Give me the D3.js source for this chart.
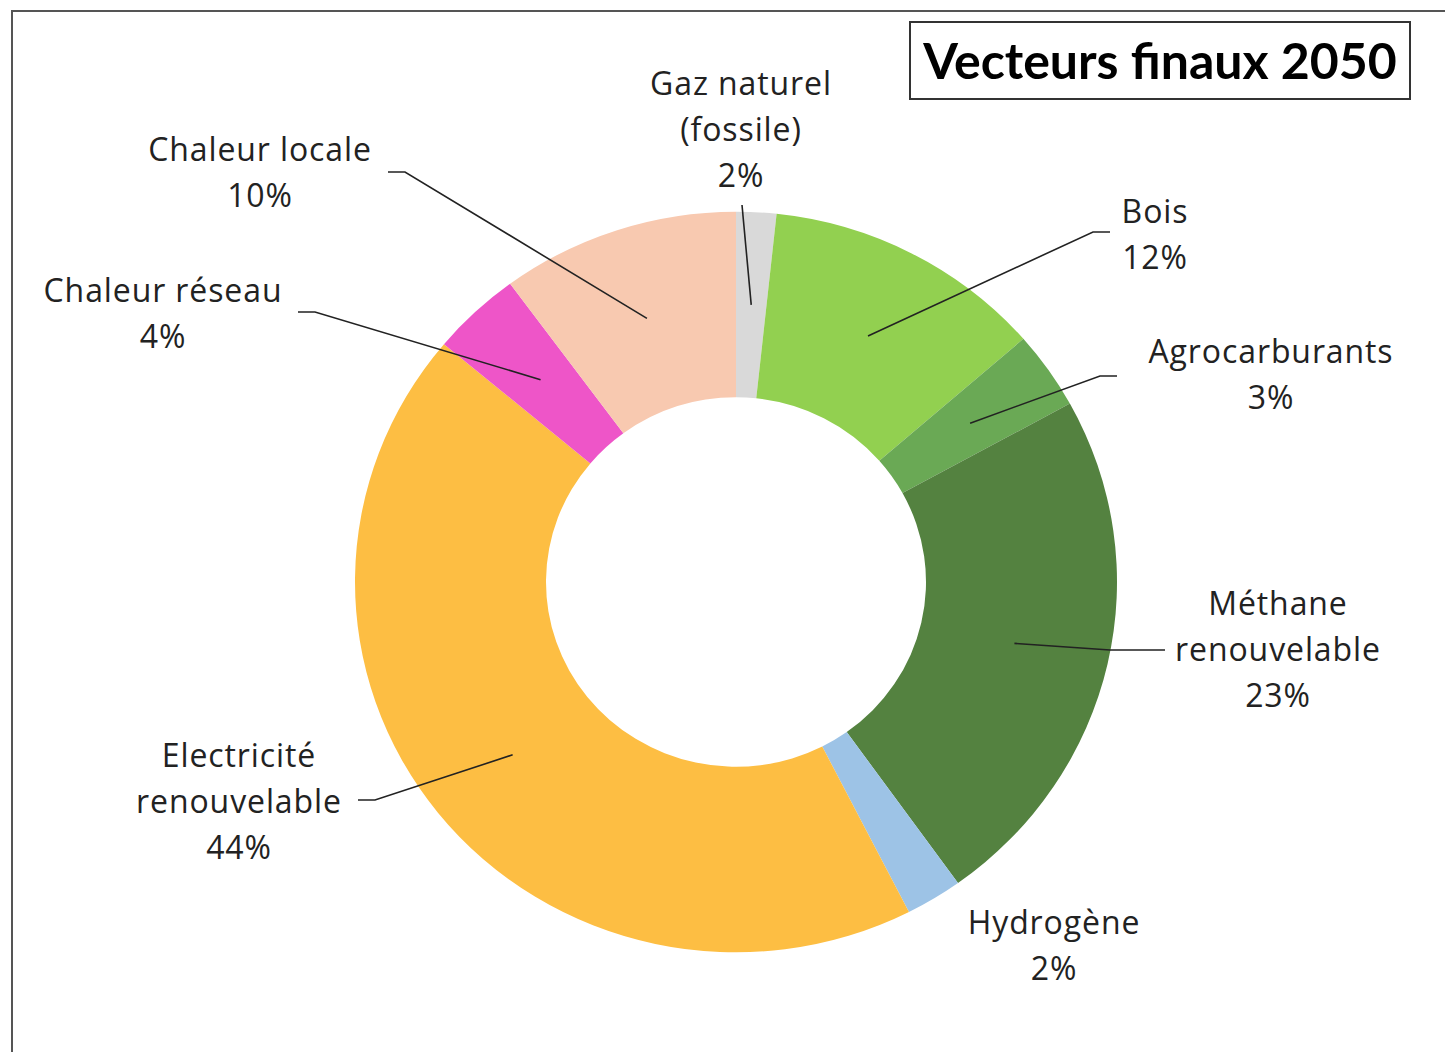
<!DOCTYPE html>
<html>
<head>
<meta charset="utf-8">
<script src="https://cdn.jsdelivr.net/npm/d3@7"></script>
<style>
  body { margin: 0; background: #fff; }
  text { font-family: "Open Sans", Lato, sans-serif; fill: #222; }
</style>
</head>
<body>
<div id="chart"></div>
<script>
// slices, clockwise from 12 o'clock
var categories = ["Gaz naturel (fossile)", "Bois", "Agrocarburants", "Méthane renouvelable",
                  "Hydrogène", "Electricité renouvelable", "Chaleur réseau", "Chaleur locale"];
var values = [1.7, 11.9, 3.4, 23.1, 2.4, 43.6, 3.8, 10.1];
var labelLines = [["Gaz naturel", "(fossile)"], ["Bois"], ["Agrocarburants"], ["Méthane", "renouvelable"],
                  ["Hydrogène"], ["Electricité", "renouvelable"], ["Chaleur réseau"], ["Chaleur locale"]];
var colors = ["#d9d9d9", "#92d050", "#6aa955", "#548240", "#9dc3e6", "#fdbe43", "#ee55c8", "#f8c9b0"];

// label placement: centre x, first baseline y, elbow point, end of horizontal stub (null = no leader)
var labelPos = [
  {x: 741, y: 95,  elbow: [742, 205],  stub: null},
  {x: 1155, y: 223, elbow: [1093, 232], stub: 1110},
  {x: 1271, y: 363, elbow: [1100, 376], stub: 1117},
  {x: 1278, y: 615, elbow: [1110, 650], stub: 1165},
  {x: 1054, y: 934, elbow: null,        stub: null},
  {x: 239, y: 767,  elbow: [375, 800],  stub: 358},
  {x: 163, y: 302,  elbow: [315, 312],  stub: 298},
  {x: 260, y: 161,  elbow: [405, 172],  stub: 388}
];

var W = 1445, H = 1052;
var cx = 736, cy = 582, rOuter = 381, rInner = 190, squash = 0.972;
var lineH = 46;

var svg = d3.select("#chart").append("svg").attr("width", W).attr("height", H);

// frame of the chart area
svg.append("path")
  .attr("d", "M12," + H + "V11H" + W)
  .attr("fill", "none").attr("stroke", "#555").attr("stroke-width", 2);

var pie = d3.pie().sort(null).value(function(d){ return d; });
var arcs = pie(values);
var arc = d3.arc().innerRadius(rInner).outerRadius(rOuter);

var g = svg.append("g").attr("transform", "translate(" + cx + "," + cy + ")");
g.selectAll("path.slice").data(arcs).enter().append("path")
  .attr("class", "slice")
  .attr("transform", "scale(1," + squash + ")")
  .attr("fill", function(d, i){ return colors[i]; })
  .attr("d", arc);

// leader lines from centroid of each slice
var leaders = svg.append("g");
arcs.forEach(function(d, i){
  var p = labelPos[i];
  if (!p.elbow) return;
  var c = arc.centroid(d);
  var start = [cx + c[0], cy + c[1] * squash];
  var pts = [start, p.elbow];
  if (p.stub !== null) pts.push([p.stub, p.elbow[1]]);
  leaders.append("path")
    .attr("d", d3.line()(pts))
    .attr("fill", "none").attr("stroke", "#222").attr("stroke-width", 1.6);
});

// labels
var labels = svg.append("g");
arcs.forEach(function(d, i){
  var p = labelPos[i];
  var lines = labelLines[i].concat([Math.round(values[i]) + "%"]);
  var t = labels.append("text")
    .attr("text-anchor", "middle")
    .attr("font-size", 32)
    .attr("letter-spacing", 0.9);
  lines.forEach(function(s, k){
    t.append("tspan").attr("x", p.x).attr("y", p.y + k * lineH).text(s);
  });
});

// title box
var tg = svg.append("g");
tg.append("rect").attr("x", 910).attr("y", 22).attr("width", 500).attr("height", 77)
  .attr("fill", "#fff").attr("stroke", "#333").attr("stroke-width", 2);
tg.append("text").attr("x", 1160).attr("y", 79).attr("text-anchor", "middle")
  .attr("font-size", 50).attr("font-weight", "bold").style("font-family", "Lato, sans-serif").style("fill", "#000")
  .text("Vecteurs finaux 2050");
</script>
</body>
</html>
